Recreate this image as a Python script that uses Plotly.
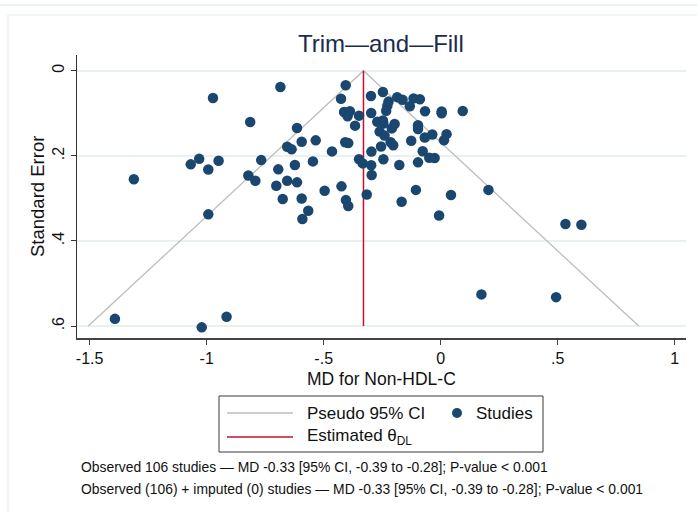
import plotly.graph_objects as go

# ---- data ----
md = [-1.392, -1.021, -0.915, -0.993, -0.675, -0.594, -0.566, -0.591, -0.496, -0.405,
      -0.395, -0.316, -0.167, -0.106, -0.007, 0.044, 0.204, 0.533, 0.601, 0.174,
      0.493, -1.311, -0.973, -0.685, -1.068, -1.032, -0.993, -0.949, -0.814, -0.767,
      -0.822, -0.792, -0.614, -0.656, -0.637, -0.594, -0.534, -0.4645, -0.694, -0.623,
      -0.546, -0.7025, -0.656, -0.614, -0.424, -0.406, -0.426, -0.413, -0.388, -0.398,
      -0.366, -0.349, -0.408, -0.395, -0.349, -0.333, -0.298, -0.247, -0.297, -0.296,
      -0.255, -0.245, -0.297, -0.295, -0.186, -0.163, -0.116, -0.089, -0.223, -0.228,
      -0.132, -0.067, 0.004, 0.004, 0.094, -0.233, -0.271, -0.247, -0.245, -0.197,
      -0.209, -0.261, -0.240, -0.214, -0.203, -0.097, -0.097, -0.126, -0.068, -0.036,
      0.025, 0.014, -0.077, -0.177, -0.097, -0.049, -0.026]
se = [0.583, 0.603, 0.578, 0.3375, 0.3015, 0.300, 0.329, 0.3485, 0.282, 0.304,
      0.318, 0.291, 0.308, 0.280, 0.340, 0.292, 0.280, 0.360, 0.362, 0.5255,
      0.532, 0.255, 0.064, 0.038, 0.220, 0.207, 0.232, 0.2115, 0.1206, 0.210,
      0.246, 0.2585, 0.1347, 0.1786, 0.1847, 0.1668, 0.1636, 0.1895, 0.2317, 0.2216,
      0.213, 0.2703, 0.2585, 0.2623, 0.2717, 0.034, 0.066, 0.097, 0.095, 0.107,
      0.129, 0.1055, 0.168, 0.170, 0.208, 0.2177, 0.0595, 0.050, 0.0994, 0.190,
      0.178, 0.208, 0.222, 0.245, 0.062, 0.068, 0.065, 0.067, 0.0725, 0.082,
      0.0837, 0.0950, 0.0955, 0.100, 0.0947, 0.094, 0.120, 0.117, 0.124, 0.125,
      0.1355, 0.143, 0.152, 0.168, 0.175, 0.128, 0.137, 0.1645, 0.157, 0.150,
      0.149, 0.1635, 0.189, 0.2216, 0.2153, 0.2045, 0.205]

theta_dl = -0.33
ci_md = [-1.506, -0.33, 0.846]
ci_se = [0.6, 0.0, 0.6]
est_md = [-0.33, -0.33]
est_se = [0.0, 0.6]

x_ticks = [-1.5, -1, -0.5, 0, 0.5, 1]
x_ticklabels = ["-1.5", "-1", "-.5", "0", ".5", "1"]
y_ticks = [0, 0.2, 0.4, 0.6]
y_ticklabels = ["0", ".2", ".4", ".6"]

title_text = "Trim\u2014and\u2014Fill"
x_title = "MD for Non-HDL-C"
y_title = "Standard Error"
note1 = "Observed 106 studies \u2014 MD -0.33 [95% CI, -0.39 to -0.28]; P-value < 0.001"
note2 = "Observed (106) + imputed (0) studies \u2014 MD -0.33 [95% CI, -0.39 to -0.28]; P-value < 0.001"

# ---- styles ----
NAVY = "#1a476f"
RED = "#c8102e"
GRAY = "#bdbdbd"
FONT = "Liberation Sans, Arial, sans-serif"

W, H = 697, 512
L, R, T, B = 77, 11, 55, 174
PW, PH = W - L - R, H - T - B


def px(xp):
    return (xp - L) / PW


def py(yp):
    return (H - B - yp) / PH


fig = go.Figure()
fig.add_trace(go.Scatter(x=ci_md, y=ci_se, mode="lines",
                         line=dict(color=GRAY, width=1.3), name="Pseudo 95% CI",
                         showlegend=False, hoverinfo="skip"))
fig.add_trace(go.Scatter(x=est_md, y=est_se, mode="lines",
                         line=dict(color=RED, width=1.5), name="Estimated θDL",
                         showlegend=False, hoverinfo="skip"))
fig.add_trace(go.Scatter(x=md, y=se, mode="markers",
                         marker=dict(color=NAVY, size=10.5, line=dict(width=0)),
                         name="Studies", showlegend=False))

shapes = []
annotations = []

# outer faint panel frame
shapes.append(dict(type="line", xref="paper", yref="paper", x0=px(0), x1=px(W),
                   y0=py(5), y1=py(5), line=dict(color="#e6eeee", width=1.5)))
shapes.append(dict(type="rect", xref="paper", yref="paper", x0=px(8), x1=px(W + 5),
                   y0=py(15), y1=py(H + 5), line=dict(color="#eef2f2", width=1.5)))

# legend box (manual, Stata style)
shapes.append(dict(type="rect", xref="paper", yref="paper", x0=px(219), x1=px(543),
                   y0=py(396), y1=py(452), line=dict(color="#3a3a3a", width=1)))
shapes.append(dict(type="line", xref="paper", yref="paper", x0=px(227), x1=px(293),
                   y0=py(413), y1=py(413), line=dict(color=GRAY, width=1.5)))
shapes.append(dict(type="line", xref="paper", yref="paper", x0=px(227), x1=px(293),
                   y0=py(437), y1=py(437), line=dict(color=RED, width=1.5)))
shapes.append(dict(type="circle", xref="paper", yref="paper", x0=px(452), x1=px(462),
                   y0=py(408), y1=py(418), fillcolor=NAVY, line=dict(width=0)))

annotations.append(dict(text="Pseudo 95% CI", x=px(305), y=py(413), xref="paper", yref="paper",
                        xanchor="left", yanchor="middle", showarrow=False,
                        font=dict(size=17, color="#111", family=FONT)))
annotations.append(dict(text="Studies", x=px(474), y=py(413), xref="paper", yref="paper",
                        xanchor="left", yanchor="middle", showarrow=False,
                        font=dict(size=17, color="#111", family=FONT)))
annotations.append(dict(text="Estimated θ<sub>DL</sub>", x=px(305), y=py(437), xref="paper",
                        yref="paper", xanchor="left", yanchor="middle", showarrow=False,
                        font=dict(size=17, color="#111", family=FONT)))

# title and axis titles
annotations.append(dict(text=title_text, x=px(381), y=py(44), xref="paper", yref="paper",
                        xanchor="center", yanchor="middle", showarrow=False,
                        font=dict(size=24, color="#1c2b4e", family=FONT)))
annotations.append(dict(text=x_title, x=px(381), y=py(379), xref="paper", yref="paper",
                        xanchor="center", yanchor="middle", showarrow=False,
                        font=dict(size=17.5, color="#111", family=FONT)))
annotations.append(dict(text=y_title, x=px(37), y=py(197), xref="paper", yref="paper",
                        xanchor="center", yanchor="middle", showarrow=False, textangle=-90,
                        font=dict(size=18.5, color="#111", family=FONT)))

# notes
annotations.append(dict(text=note1, x=px(79), y=py(467), xref="paper", yref="paper",
                        xanchor="left", yanchor="middle", showarrow=False,
                        font=dict(size=13.9, color="#111", family=FONT)))
annotations.append(dict(text=note2, x=px(79), y=py(489), xref="paper", yref="paper",
                        xanchor="left", yanchor="middle", showarrow=False,
                        font=dict(size=13.9, color="#111", family=FONT)))

fig.update_layout(
    width=W, height=H, autosize=False,
    margin=dict(l=L, r=R, t=T, b=B, pad=0),
    paper_bgcolor="white", plot_bgcolor="white",
    showlegend=False,
    shapes=shapes, annotations=annotations,
    font=dict(family=FONT, size=16, color="#111"),
)
fig.update_xaxes(range=[-1.554, 1.048], tickvals=x_ticks, ticktext=x_ticklabels,
                 showgrid=False, zeroline=False, showline=True, linecolor="#444",
                 linewidth=2, ticks="outside", ticklen=5, tickcolor="#444", tickwidth=1,
                 tickfont=dict(size=16, family=FONT, color="#111"))
fig.update_yaxes(range=[0.628, -0.037], tickvals=y_ticks, ticktext=y_ticklabels,
                 showgrid=True, gridcolor="#e9f0f0", gridwidth=1.5, zeroline=False,
                 showline=True, linecolor="#333", linewidth=1.3, ticks="outside",
                 ticklen=5, tickcolor="#333", tickwidth=1, tickangle=-90,
                 tickfont=dict(size=16, family=FONT, color="#111"))

fig.write_html("out.html")
